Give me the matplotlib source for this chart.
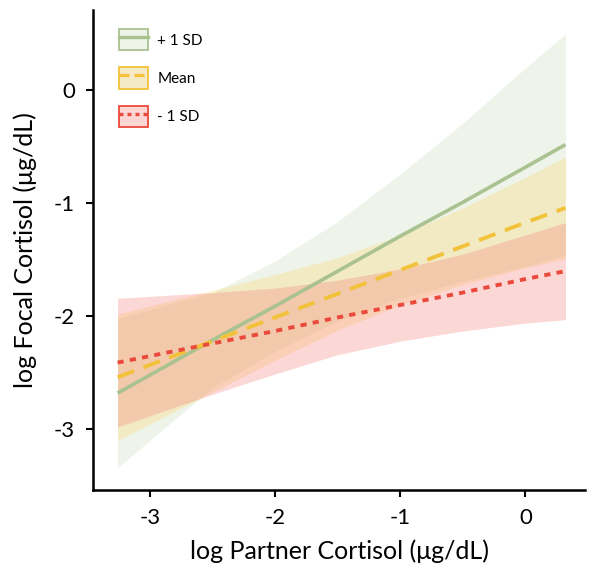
import matplotlib
matplotlib.use("Agg")
import matplotlib.pyplot as plt
from matplotlib.patches import Patch
from matplotlib.lines import Line2D

plt.rcParams['font.family'] = ['Lato', 'DejaVu Sans']

# Data
x_grid = [-3.26, -2.5, -2.0, -1.5, -1.0, -0.5, 0.0, 0.32]

hi_fit   = [-2.68, -2.21, -1.91, -1.60, -1.29, -0.99, -0.68, -0.48]
hi_upper = [-2.02, -1.79, -1.51, -1.16, -0.74, -0.29, 0.20, 0.50]
hi_lower = [-3.34, -2.63, -2.31, -2.04, -1.84, -1.69, -1.56, -1.46]

mean_fit   = [-2.54, -2.22, -2.01, -1.80, -1.59, -1.38, -1.17, -1.04]
mean_upper = [-1.98, -1.77, -1.63, -1.48, -1.28, -1.04, -0.77, -0.59]
mean_lower = [-3.10, -2.67, -2.39, -2.12, -1.90, -1.72, -1.57, -1.49]

lo_fit   = [-2.41, -2.24, -2.13, -2.01, -1.90, -1.79, -1.67, -1.60]
lo_upper = [-1.84, -1.79, -1.75, -1.68, -1.58, -1.45, -1.28, -1.17]
lo_lower = [-2.98, -2.69, -2.51, -2.34, -2.22, -2.13, -2.06, -2.03]

series_labels = ['+ 1 SD', 'Mean', '- 1 SD']
x_ticks = [-3, -2, -1, 0]
y_ticks = [0, -1, -2, -3]

fig = plt.figure(figsize=(5.89, 5.70), dpi=100)
ax = fig.add_axes([0.158, 0.140, 0.836, 0.842])

c_green_fill = (170/255, 200/255, 150/255)
c_yel_fill = (254/255, 210/255, 90/255)
c_red_fill = (245/255, 125/255, 118/255)
c_green = '#a9c28f'
c_yel = '#f2c23a'
c_red = '#ea4a3b'

ax.fill_between(x_grid, hi_lower, hi_upper, color=c_green_fill, alpha=0.2, lw=0)
ax.fill_between(x_grid, mean_lower, mean_upper, color=c_yel_fill, alpha=0.27, lw=0)
ax.fill_between(x_grid, lo_lower, lo_upper, color=c_red_fill, alpha=0.3, lw=0)

ax.plot(x_grid, hi_fit, color=c_green, lw=2.6, solid_capstyle='butt', zorder=3)
ax.plot(x_grid, mean_fit, color=c_yel, lw=2.8, dashes=(4.5, 2.6), zorder=4)
ax.plot(x_grid, lo_fit, color=c_red, lw=2.8, dashes=(1.6, 1.6), zorder=5)

ax.set_xlim(-3.456, 0.48)
ax.set_ylim(-3.54, 0.71)
ax.set_xticks(x_ticks)
ax.set_yticks(y_ticks)
ax.set_xticklabels([str(t) for t in x_ticks], fontsize=16)
ax.set_yticklabels([str(t) for t in y_ticks], fontsize=16)
ax.tick_params(direction='out', length=5, width=1.5, pad=8)
for s in ['top', 'right']:
    ax.spines[s].set_visible(False)
for s in ['left', 'bottom']:
    ax.spines[s].set_linewidth(1.8)

ax.set_xlabel('log Partner Cortisol (μg/dL)', fontsize=18, labelpad=8)
ax.set_ylabel('log Focal Cortisol (μg/dL)', fontsize=18, labelpad=12)

h1 = (Patch(facecolor=(238/255, 244/255, 232/255), edgecolor=c_green, lw=1.3),
      Line2D([], [], color=c_green, lw=2.4))
h2 = (Patch(facecolor=(245/255, 234/255, 200/255), edgecolor=c_yel, lw=1.3),
      Line2D([], [], color=c_yel, lw=2.4, dashes=(3, 1.5)))
h3 = (Patch(facecolor=(252/255, 214/255, 212/255), edgecolor=c_red, lw=1.3),
      Line2D([], [], color=c_red, lw=2.4, dashes=(1.2, 1.2)))
leg = ax.legend([h1, h2, h3], series_labels, loc='upper left',
                bbox_to_anchor=(0.025, 0.99), frameon=False, fontsize=11,
                handlelength=1.9, handleheight=1.8, labelspacing=1.1,
                handletextpad=0.6)

fig.savefig('out.png', dpi=100)
